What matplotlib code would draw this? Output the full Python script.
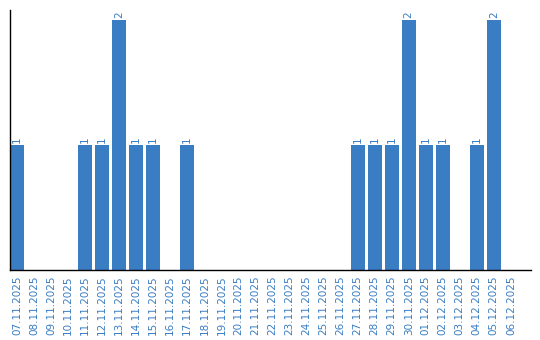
import matplotlib
matplotlib.use("Agg")
import matplotlib.pyplot as plt

dates = [
    "07.11.2025", "08.11.2025", "09.11.2025", "10.11.2025", "11.11.2025",
    "12.11.2025", "13.11.2025", "14.11.2025", "15.11.2025", "16.11.2025",
    "17.11.2025", "18.11.2025", "19.11.2025", "20.11.2025", "21.11.2025",
    "22.11.2025", "23.11.2025", "24.11.2025", "25.11.2025", "26.11.2025",
    "27.11.2025", "28.11.2025", "29.11.2025", "30.11.2025", "01.12.2025",
    "02.12.2025", "03.12.2025", "04.12.2025", "05.12.2025", "06.12.2025",
]
counts = [1, 0, 0, 0, 1, 1, 2, 1, 1, 0,
          1, 0, 0, 0, 0, 0, 0, 0, 0, 0,
          1, 1, 1, 2, 1, 1, 0, 1, 2, 0]

BLUE = "#3a7dc2"

fig = plt.figure(figsize=(5.4, 3.4), dpi=100)
ax = fig.add_axes([10 / 540, 70 / 340, 521 / 540, 260 / 340])

x = list(range(len(dates)))
ax.bar(x, counts, width=0.82, color=BLUE)

# value labels above non-empty bars
for xi, v in zip(x, counts):
    if v > 0:
        ax.text(xi, v + 0.02, str(v), rotation=90, ha="center", va="bottom",
                color=BLUE, fontsize=7.5)

ax.set_xlim(-0.41, 30.18)
ax.set_ylim(0, 2.08)
ax.set_xticks(x)
ax.set_xticklabels(dates, rotation=90, color=BLUE, fontsize=7.5)
ax.tick_params(axis="x", length=0, pad=4)
ax.set_yticks([])

for side in ("top", "right"):
    ax.spines[side].set_visible(False)
ax.spines["left"].set_linewidth(1.0)
ax.spines["bottom"].set_linewidth(1.0)

fig.savefig("out.png", dpi=100)
